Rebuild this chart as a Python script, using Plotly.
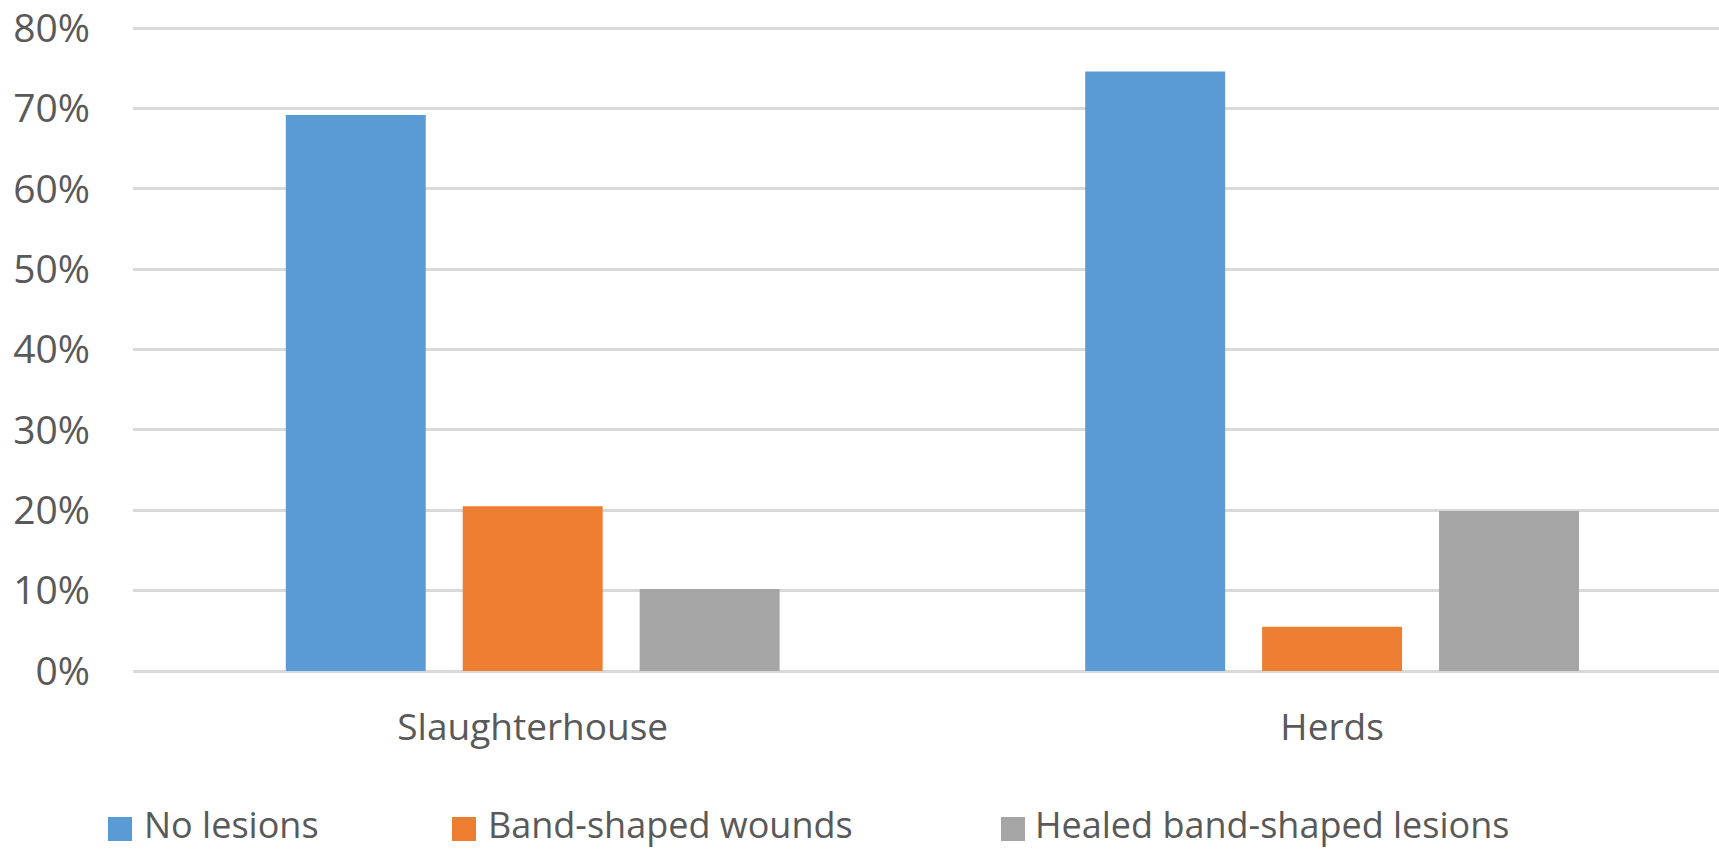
import plotly.graph_objects as go

categories = ["Slaughterhouse", "Herds"]
series_names = ["No lesions", "Band-shaped wounds", "Healed band-shaped lesions"]
no_lesions = [0.692, 0.746]
band_wounds = [0.205, 0.055]
healed_lesions = [0.102, 0.199]
series_values = [no_lesions, band_wounds, healed_lesions]
colors = ["#5B9BD5", "#ED7D31", "#A5A5A5"]
y_ticks = [0, 0.1, 0.2, 0.3, 0.4, 0.5, 0.6, 0.7, 0.8]
y_tick_labels = ["0%", "10%", "20%", "30%", "40%", "50%", "60%", "70%", "80%"]

W, H = 1719, 850
ML, MR, MT, MB = 133, 0, 27, 850 - 671
FONT = "Open Sans"
TXT = "#595959"

fig = go.Figure()
for name, vals, col in zip(series_names, series_values, colors):
    fig.add_trace(go.Bar(x=categories, y=vals, name=name, marker_color=col,
                         marker_line_width=0, showlegend=False))

fig.update_layout(
    width=W, height=H,
    margin=dict(l=ML, r=MR, t=MT, b=MB, autoexpand=False),
    paper_bgcolor="white", plot_bgcolor="white",
    barmode="group", bargap=0.336, bargroupgap=0.209,
    font=dict(family=FONT, color=TXT, size=37),
)
fig.update_xaxes(range=[-0.5, 1.484], showgrid=False, zeroline=False, showline=False,
                 ticks="", tickfont=dict(size=37, color=TXT), ticklabelstandoff=31)
fig.update_yaxes(range=[0, 0.8015], tickvals=y_ticks, ticktext=y_tick_labels,
                 showgrid=True, gridcolor="#D9D9D9", gridwidth=2.5,
                 zeroline=True, zerolinecolor="#D9D9D9", zerolinewidth=2.5,
                 showline=False, ticks="", tickfont=dict(size=39, color=TXT),
                 ticklabelstandoff=42, ticklabeloverflow="allow")

# custom legend (paper coordinates derived from pixel layout)
pw = W - ML - MR
ph = H - MT - MB
def px_x(p):
    return (p - ML) / pw
def px_y(p):
    return (H - MB - p) / ph

swatch_left = [108, 452, 1001]
text_left = [143, 487, 1034]
sw = 24
cy = 824
for name, col, sl, tl in zip(series_names, colors, swatch_left, text_left):
    fig.add_shape(type="rect", xref="paper", yref="paper",
                  x0=px_x(sl), x1=px_x(sl + sw), y0=px_y(cy + 5 + sw / 2), y1=px_y(cy + 5 - sw / 2),
                  fillcolor=col, line_width=0)
    fig.add_annotation(xref="paper", yref="paper", x=px_x(tl), y=px_y(cy),
                       xanchor="left", yanchor="middle", text=name, showarrow=False,
                       borderpad=0, font=dict(size=36, color=TXT, family=FONT))

fig.write_html("out.html", config={"displayModeBar": False},
               post_script="document.body.style.margin='0';document.body.style.overflow='hidden';")
